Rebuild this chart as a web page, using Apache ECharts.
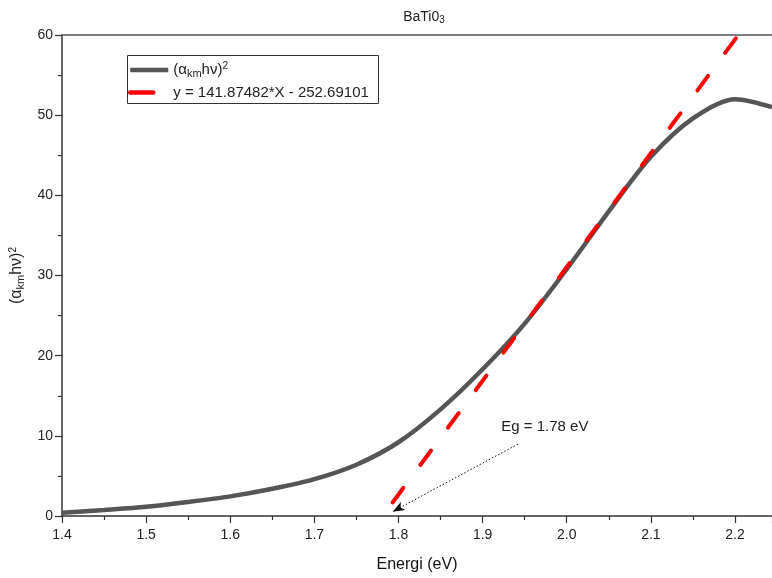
<!DOCTYPE html>
<html>
<head>
<meta charset="utf-8">
<script src="https://cdn.jsdelivr.net/npm/echarts@6/dist/echarts.min.js"></script>
<style>html,body{margin:0;padding:0;background:#fff}#c{width:772px;height:578px}</style>
</head>
<body>
<div id="c"></div>
<script>
// Data
const curveX = [1.40, 1.45, 1.50, 1.55, 1.60, 1.65, 1.70, 1.75, 1.80, 1.85, 1.90, 1.95, 2.00, 2.05, 2.10, 2.15, 2.20, 2.244];
const curveY = [0.4, 0.75, 1.15, 1.75, 2.45, 3.4, 4.6, 6.4, 9.2, 13.3, 18.3, 24.0, 30.8, 38.0, 44.8, 49.6, 52.0, 51.0];
const fitX = [1.793, 2.204];
const fitY = [1.69, 60.0];
const arrowFrom = [1.942, 8.97];
const arrowTo = [1.793, 0.54];
const annotPos = [1.974, 11.1];
const annotText = 'Eg = 1.78 eV';
const xTicks = [1.4, 1.5, 1.6, 1.7, 1.8, 1.9, 2.0, 2.1, 2.2];
const yTicks = [0, 10, 20, 30, 40, 50, 60];

const F = '"Liberation Sans", Arial, sans-serif';
const chart = echarts.init(document.getElementById('c'));
const axisCol = '#333';
const richLbl = (main, sub) => ({
  n: {fontSize: main, color: '#222', fontFamily: F},
  s: {fontSize: sub, color: '#222', fontFamily: F, verticalAlign: 'bottom', padding: [7, 0, 0, 0]},
  p: {fontSize: sub - 1, color: '#222', fontFamily: F, verticalAlign: 'top', padding: [0, 0, 7, 0]}
});
chart.setOption({
  animation: false,
  textStyle: {fontFamily: F},
  title: {
    text: '{t|BaTi0}{s|3}',
    left: 419, top: 4, textAlign: 'center',
    textStyle: {rich: {t: {fontSize: 14, fontWeight: 'normal', color: '#222', fontFamily: F}, s: {fontSize: 10, fontWeight: 'normal', color: '#222', fontFamily: F, verticalAlign: 'bottom', padding: [6, 0, 0, 0]}}}
  },
  grid: {left: 62, top: 35, right: 0, bottom: 61},
  graphic: [{
    type: 'rect', left: 127, top: 55, silent: true, z: 100,
    shape: {width: 251, height: 48},
    style: {fill: 'rgba(0,0,0,0)', stroke: '#333', lineWidth: 1}
  }],
  legend: [{
    orient: 'vertical', left: 128, top: 61, padding: 0,
    itemWidth: 38, itemHeight: 14,
    itemStyle: {opacity: 0},
    textStyle: {fontSize: 15, color: '#222', fontFamily: F, rich: richLbl(15, 11)},
    formatter: () => '{n|(α}{s|km}{n|hν)}{p|2}',
    data: [{name: 'curve', lineStyle: {width: 4.5, color: '#555555', type: 'solid'}}]
  }, {
    orient: 'vertical', left: 128, top: 85, padding: 0,
    itemWidth: 23, itemHeight: 14,
    itemStyle: {opacity: 0},
    textStyle: {fontSize: 15, color: '#222', fontFamily: F, rich: {n: {fontSize: 15, color: '#222', fontFamily: F, padding: [0, 0, 0, 15]}}},
    formatter: () => '{n|y = 141.87482*X - 252.69101}',
    data: [{name: 'fit', lineStyle: {width: 4.5, color: '#ff0000', type: 'solid', cap: 'round'}}]
  }],
  xAxis: [{
    type: 'value', min: 1.4, max: 2.244, interval: 0.1,
    name: 'Energi (eV)', nameLocation: 'middle', nameGap: 41,
    nameTextStyle: {fontSize: 16, color: '#111', fontFamily: F},
    axisLine: {lineStyle: {color: axisCol, width: 1.5}},
    axisTick: {length: 7, lineStyle: {color: axisCol, width: 1.2}},
    minorTick: {show: true, splitNumber: 2, length: 4, lineStyle: {color: axisCol, width: 1.2}},
    splitLine: {show: false},
    axisLabel: {fontSize: 14, color: '#222', margin: 12, showMaxLabel: false,
      formatter: v => (xTicks.some(t => Math.abs(t - v) < 1e-6) ? v.toFixed(1) : '')}
  }, {
    type: 'value', position: 'top', min: 1.4, max: 2.244,
    axisLine: {show: true, onZero: false, lineStyle: {color: '#555', width: 1.5}},
    axisTick: {show: false}, axisLabel: {show: false}, splitLine: {show: false}
  }],
  yAxis: {
    type: 'value', min: 0, max: 60, interval: 10,
    name: '{n|(α}{s|km}{n|hν)}{p|2}', nameLocation: 'middle', nameGap: 36, nameRotate: 90,
    nameTextStyle: {rich: richLbl(16, 11)},
    axisLine: {show: true, lineStyle: {color: axisCol, width: 1.5}},
    axisTick: {show: true, length: 7, lineStyle: {color: axisCol, width: 1.2}},
    minorTick: {show: true, splitNumber: 2, length: 4, lineStyle: {color: axisCol, width: 1.2}},
    splitLine: {show: false},
    axisLabel: {fontSize: 14, color: '#222', margin: 9,
      formatter: v => (yTicks.indexOf(v) >= 0 ? String(v) : '')}
  },
  series: [{
    name: 'curve', type: 'line', smooth: 0.3, symbol: 'none', showSymbol: false,
    data: curveX.map((x, i) => [x, curveY[i]]),
    lineStyle: {color: '#555555', width: 4.5},
    itemStyle: {color: '#555555'},
    z: 2,
    markLine: {
      silent: true, animation: false,
      label: {show: false},
      lineStyle: {color: '#111', width: 1, type: [1.5, 2]},
      symbol: ['none', 'arrow'], symbolSize: [7, 12],
      data: [[{coord: arrowFrom}, {coord: arrowTo}]]
    },
    markPoint: {
      silent: true, symbol: 'circle', symbolSize: 0,
      label: {show: true, position: 'inside', formatter: annotText, fontSize: 15, color: '#222', fontFamily: F},
      data: [{coord: annotPos}]
    }
  }, {
    name: 'fit', type: 'line', symbol: 'none', showSymbol: false,
    data: fitX.map((x, i) => [x, fitY[i]]),
    lineStyle: {color: '#ff0000', width: 4, type: [18, 28.6], cap: 'round'},
    itemStyle: {color: '#ff0000'},
    z: 3
  }]
});
</script>
</body>
</html>
